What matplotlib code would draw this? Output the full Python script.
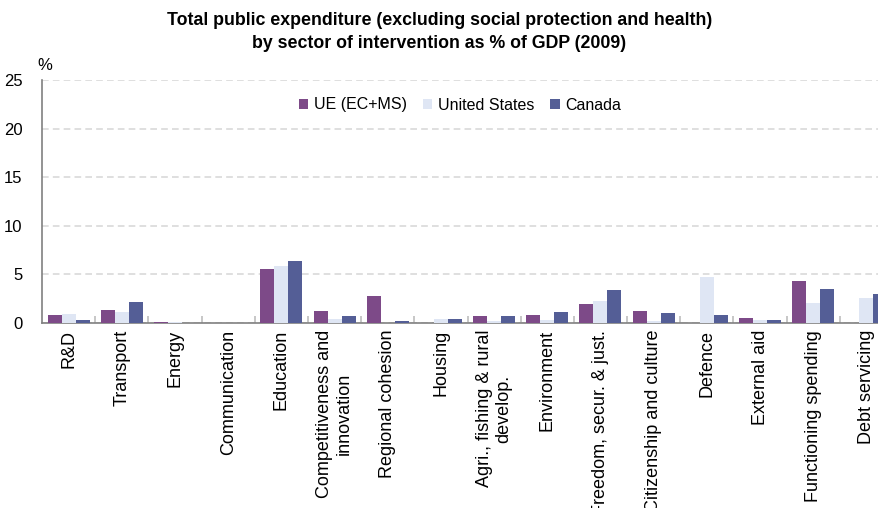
import matplotlib
matplotlib.use("Agg")
import matplotlib.pyplot as plt
import numpy as np

plt.rcParams['font.family'] = ['Liberation Sans', 'DejaVu Sans']

categories = ["R&D", "Transport", "Energy", "Communication", "Education",
              "Competitiveness and\ninnovation", "Regional cohesion", "Housing",
              "Agri., fishing & rural\ndevelop.", "Environment",
              "Freedom, secur. & just.", "Citizenship and culture", "Defence",
              "External aid", "Functioning spending", "Debt servicing"]
series_names = ["UE (EC+MS)", "United States", "Canada"]
ue = [0.82, 1.34, 0.08, 0.0, 5.59, 1.19, 2.78, 0.0, 0.75, 0.80, 1.91, 1.19, 0.0, 0.51, 4.32, 0.0]
us = [0.96, 1.16, 0.08, 0.0, 5.82, 0.44, 0.0, 0.42, 0.24, 0.34, 2.29, 0.24, 4.76, 0.36, 2.02, 2.60]
ca = [0.27, 2.19, 0.0, 0.0, 6.41, 0.75, 0.24, 0.45, 0.75, 1.13, 3.43, 1.06, 0.80, 0.33, 3.53, 2.98]
yticks = [0, 5, 10, 15, 20, 25]
colors = ["#7d4a88", "#dfe6f4", "#545e96"]

fig = plt.figure(figsize=(8.79, 5.08), dpi=100)
ax = fig.add_axes([42/879, (508-323)/508, (893-42)/879, (323-80)/508])

x = np.arange(len(categories))
w = 0.263
for i, (vals, c, name) in enumerate(zip([ue, us, ca], colors, series_names)):
    ax.bar(x + (i - 1) * w, vals, width=w, color=c, label=name, zorder=3)

ax.set_xlim(-0.5, len(categories) - 0.5)
ax.set_ylim(0, 25)
ax.set_yticks(yticks)
ax.yaxis.grid(True, linestyle=(0, (4, 2.5)), color="#d9d9d9", linewidth=1.2, zorder=0)
ax.tick_params(axis='y', length=0, pad=14, labelsize=12)
ax.set_xticks(x)
ax.set_xticklabels(categories, rotation=90, ha='center', va='top',
                   fontsize=13, multialignment='center')
ax.tick_params(axis='x', which='major', length=0, pad=5)
ax.set_xticks(np.arange(0.5, len(categories) - 0.5, 1), minor=True)
ax.tick_params(axis='x', which='minor', direction='in', length=5, color='#bdbdbd', width=1.2)
for s in ['top', 'right']:
    ax.spines[s].set_visible(False)
for s in ['left', 'bottom']:
    ax.spines[s].set_color('#808080')
    ax.spines[s].set_linewidth(1.2)

leg = ax.legend(loc='center', bbox_to_anchor=(460/879, 1 - 105/508),
                bbox_transform=fig.transFigure, ncol=3, frameon=False,
                fontsize=11.5, handlelength=0.6, handleheight=0.6,
                handletextpad=0.35, columnspacing=1.0)

fig.text(0.5, 1 - 32/508, "Total public expenditure (excluding social protection and health)\nby sector of intervention as % of GDP (2009)",
         ha='center', va='center', fontsize=12.8, fontweight='bold', linespacing=1.4)
fig.text(45/879, 1 - 66/508, "%", ha='center', va='center', fontsize=12)

fig.savefig("out.png", dpi=100)
